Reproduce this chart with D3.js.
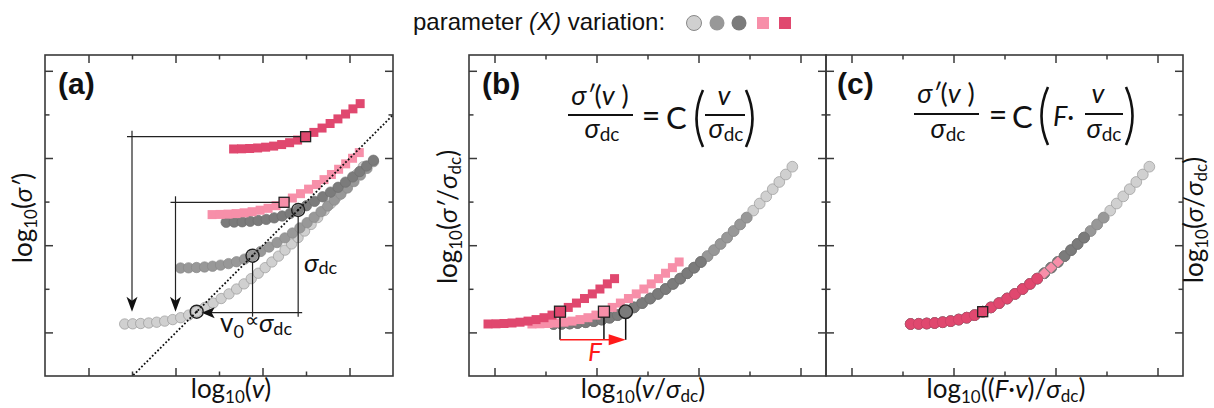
<!DOCTYPE html>
<html><head><meta charset="utf-8">
<script src="https://cdn.jsdelivr.net/npm/d3@7"></script>
<style>body{margin:0;background:#fff} svg{display:block}</style>
</head><body><svg id="chart" width="1214" height="408"></svg>
<script>
// ---------- DATA ----------
// collapsed master curve (panel c coordinates, arbitrary log units)
const masterLogNu = [1.947, 2.131, 2.315, 2.499, 2.683, 2.867, 3.051, 3.234, 3.418, 3.602,
  3.792, 3.980, 4.165, 4.345, 4.520, 4.690, 4.856, 5.018, 5.176, 5.331, 5.483, 5.633,
  5.783, 5.933, 6.083, 6.233, 6.383, 6.533, 6.683, 6.833, 6.983, 7.133, 7.283, 7.433];
const masterLogSigma = [1.193, 1.197, 1.204, 1.216, 1.234, 1.259, 1.294, 1.337, 1.397, 1.475,
  1.573, 1.673, 1.777, 1.883, 1.995, 2.113, 2.233, 2.357, 2.485, 2.615, 2.749, 2.887,
  3.029, 3.175, 3.325, 3.477, 3.633, 3.793, 3.956, 4.120, 4.285, 4.450, 4.622, 4.800];
const onsetIndex = 9;
const seriesNames = ["light gray", "gray", "dark gray", "pink", "crimson"];
const seriesColors = ["#d0d0d0", "#989898", "#7b7b7b", "#f78fa9", "#e0486f"];
const seriesStrokes = ["#999999", "#8a8a8a", "#6f6f6f", "none", "none"];
const seriesShapes = ["circle", "circle", "circle", "square", "square"];
const seriesPointCount = [34, 27, 20, 20, 17];     // panels a, b
const seriesPointCountC = [34, 27, 24, 20, 17];    // panel c
const seriesLogSigmaDc = [0, 1.284, 2.333, 2.509, 4.014];
const seriesLogF = [0, 0, 0, 0.5, 1.51];
const seriesArrowLogNu = [null, null, null, 3.0, 2.0];
const fArrowLogSigma = 0.83;
const xTicksA = [1, 2, 3, 4, 5, 6, 7];
const xTicksBC = [0, 1, 2, 3, 4, 5, 6];
const yTicks = [1, 2, 3, 4, 5, 6, 7];

// ---------- LAYOUT ----------
const svg = d3.select("#chart");
const Y0 = 55, Y1 = 376, unitX = 43.5, unitY = 43.6;
const panelAOffset = -0.115;
const P = {a: {x0: 45, x1: 393}, b: {x0: 469, x1: 826}, c: {x0: 826, x1: 1183}};
const y = d3.scaleLinear([0, (Y1 - Y0) / unitY], [Y1, Y0]);
const xs = {
  a: d3.scaleLinear([0, 8], [P.a.x0, P.a.x1]),
  b: d3.scaleLinear([0, (P.b.x1 - P.b.x0) / unitX], [P.b.x0, P.b.x1]),
  c: d3.scaleLinear([0, (P.c.x1 - P.c.x0) / unitX], [P.c.x0, P.c.x1])
};
const xTickScales = {
  a: xs.a,
  b: d3.scaleLinear([-0.5, 6.5], [P.b.x0, P.b.x1]),
  c: d3.scaleLinear([-0.5, 6.5], [P.c.x0, P.c.x1])
};
const FONT = "Lato, 'Noto Sans', sans-serif";
const INK = "#3a3a3a";

function pt(i, k, panel) {
  let xv = masterLogNu[k], yv = masterLogSigma[k];
  if (panel !== "c") xv -= seriesLogF[i];
  if (panel === "a") { xv += seriesLogSigmaDc[i] + panelAOffset; yv += seriesLogSigmaDc[i]; }
  return {x: xs[panel](xv), y: y(yv), k};
}
function seriesPts(i, panel) {
  const n = panel === "c" ? seriesPointCountC[i] : seriesPointCount[i];
  return d3.range(n).map(k => pt(i, k, panel));
}

// ---------- MARKERS ----------
["a", "b", "c"].forEach(panel => {
  const g = svg.append("g");
  seriesNames.forEach((name, i) => {
    const pts = seriesPts(i, panel);
    const gs = g.append("g");
    let shape = seriesShapes[i];
    if (panel === "c" && i === 4) shape = "circle";
    if (panel === "c" && i === 3) shape = "diamond";
    const r = panel === "a" ? 5.2 : 5.4;
    if (shape === "circle") {
      gs.selectAll("circle").data(pts).join("circle")
        .attr("cx", d => d.x).attr("cy", d => d.y).attr("r", r)
        .attr("fill", seriesColors[i])
        .attr("stroke", seriesStrokes[i] === "none" ? d3.color(seriesColors[i]).darker(0.3) : seriesStrokes[i])
        .attr("stroke-width", 0.7);
    } else if (shape === "square") {
      const s = 9;
      gs.selectAll("rect").data(pts).join("rect")
        .attr("x", d => d.x - s / 2).attr("y", d => d.y - s / 2)
        .attr("width", s).attr("height", s).attr("fill", seriesColors[i]);
    } else {
      const s = 7.8;
      gs.selectAll("rect").data(pts).join("rect")
        .attr("x", -s / 2).attr("y", -s / 2).attr("width", s).attr("height", s)
        .attr("transform", d => `translate(${d.x},${d.y}) rotate(45)`)
        .attr("fill", seriesColors[i]);
    }
  });
});

// ---------- ANNOTATIONS PANEL A ----------
const ga = svg.append("g");
const onA = seriesNames.map((n, i) => pt(i, onsetIndex, "a"));
ga.append("clipPath").attr("id", "clipA").append("rect")
  .attr("x", P.a.x0).attr("y", Y0).attr("width", P.a.x1 - P.a.x0).attr("height", Y1 - Y0);
{
  const x0v = masterLogNu[onsetIndex] + panelAOffset, y0v = masterLogSigma[onsetIndex];
  const t0 = -3, t1 = 6;
  ga.append("line").attr("clip-path", "url(#clipA)")
    .attr("x1", xs.a(x0v + t0)).attr("y1", y(y0v + t0))
    .attr("x2", xs.a(x0v + t1)).attr("y2", y(y0v + t1))
    .attr("stroke", "#111").attr("stroke-width", 1.8).attr("stroke-dasharray", "1.8,2.0");
}
seriesArrowLogNu.forEach((ax, i) => {
  if (ax === null) return;
  const o = onA[i], axp = xs.a(ax), tipY = onA[0].y;
  ga.append("line").attr("x1", axp - 5).attr("x2", o.x).attr("y1", o.y).attr("y2", o.y)
    .attr("stroke", "#222").attr("stroke-width", 1.2);
  ga.append("line").attr("x1", axp).attr("x2", axp).attr("y1", o.y - 6).attr("y2", tipY - 10)
    .attr("stroke", "#222").attr("stroke-width", 1.2);
  ga.append("path").attr("d", `M${axp},${tipY} L${axp - 5.5},${tipY - 15} L${axp},${tipY - 11} L${axp + 5.5},${tipY - 15}Z`)
    .attr("fill", "#111");
  ga.append("rect").attr("x", o.x - 5).attr("y", o.y - 5).attr("width", 10).attr("height", 10)
    .attr("fill", seriesColors[i]).attr("stroke", "#222").attr("stroke-width", 1.3);
});
{
  const L = onA[0], M = onA[1], D = onA[2];
  ga.append("line").attr("x1", L.x + 12).attr("x2", D.x + 4).attr("y1", L.y + 1).attr("y2", L.y + 1)
    .attr("stroke", "#222").attr("stroke-width", 1.2);
  ga.append("path").attr("d", `M${L.x + 5},${L.y + 1} L${L.x + 18},${L.y - 4.5} L${L.x + 15},${L.y + 1} L${L.x + 18},${L.y + 6.5}Z`)
    .attr("fill", "#111");
  [M, D].forEach(o => ga.append("line").attr("x1", o.x).attr("x2", o.x)
    .attr("y1", o.y + 6.5).attr("y2", L.y + 5).attr("stroke", "#222").attr("stroke-width", 1.2));
  [L, M, D].forEach(o => {
    ga.append("circle").attr("cx", o.x).attr("cy", o.y).attr("r", 6.5)
      .attr("fill", "none").attr("stroke", "#222").attr("stroke-width", 1.4);
    ga.append("circle").attr("cx", o.x).attr("cy", o.y).attr("r", 1.2).attr("fill", "#111");
  });
  const t1 = ga.append("text").attr("x", 304).attr("y", 272).attr("font-family", FONT).attr("font-size", 26).attr("fill", "#111");
  t1.append("tspan").attr("font-style", "italic").text("σ");
  t1.append("tspan").attr("font-size", 18).attr("dy", 2).text("dc");
  const t2 = ga.append("text").attr("x", 220).attr("y", 332).attr("font-family", FONT).attr("font-size", 26).attr("fill", "#111");
  t2.append("tspan").text("v");
  t2.append("tspan").attr("font-size", 18).attr("dy", 6).text("0");
  t2.append("tspan").attr("font-size", 20).attr("dy", -11).attr("dx", 1).text("∝");
  t2.append("tspan").attr("font-style", "italic").attr("dy", 5).text("σ");
  t2.append("tspan").attr("font-size", 18).attr("dy", 3).text("dc");
}

// ---------- ANNOTATIONS PANEL B ----------
const gb = svg.append("g");
{
  const on = seriesNames.map((n, i) => pt(i, onsetIndex, "b"));
  const ly = y(fArrowLogSigma);
  [4, 3, 0].forEach(i => gb.append("line").attr("x1", on[i].x).attr("x2", on[i].x)
    .attr("y1", on[i].y + 5).attr("y2", ly).attr("stroke", "#111").attr("stroke-width", 1.5));
  gb.append("line").attr("x1", on[4].x).attr("x2", on[0].x - 12).attr("y1", ly).attr("y2", ly)
    .attr("stroke", "#ff1a1a").attr("stroke-width", 1.5);
  gb.append("path").attr("d", `M${on[0].x},${ly} L${on[0].x - 17},${ly - 5.5} L${on[0].x - 17},${ly + 5.5}Z`).attr("fill", "#ff1a1a");
  [4, 3].forEach(i => gb.append("rect").attr("x", on[i].x - 5.5).attr("y", on[i].y - 5.5)
    .attr("width", 11).attr("height", 11).attr("fill", seriesColors[i]).attr("stroke", "#222").attr("stroke-width", 1.3));
  gb.append("circle").attr("cx", on[0].x).attr("cy", on[0].y).attr("r", 6.8)
    .attr("fill", seriesColors[2]).attr("stroke", "#222").attr("stroke-width", 1.4);
  gb.append("text").attr("x", 595).attr("y", 361).attr("text-anchor", "middle")
    .attr("font-family", FONT).attr("font-style", "italic").attr("font-size", 26).attr("fill", "#ff1a1a").text("F");
}
// ---------- ANNOTATIONS PANEL C ----------
{
  const o = pt(4, onsetIndex, "c");
  svg.append("rect").attr("x", o.x - 5).attr("y", o.y - 5).attr("width", 10).attr("height", 10)
    .attr("fill", seriesColors[4]).attr("stroke", "#222").attr("stroke-width", 1.3);
}

// ---------- FRAMES & TICKS ----------
["a", "b", "c"].forEach(panel => {
  const {x0, x1} = P[panel];
  const g = svg.append("g");
  const xt = xTickScales[panel], xv = panel === "a" ? xTicksA : xTicksBC;
  const xMaj = xv.filter((v, j) => j % 2 === 0), xMin = xv.filter((v, j) => j % 2 === 1);
  const yMaj = yTicks.filter((v, j) => j % 2 === 0), yMin = yTicks.filter((v, j) => j % 2 === 1);
  const style = s => s.call(q => q.select(".domain").remove()).selectAll("line").attr("stroke", INK).attr("stroke-width", 1.5);
  [[xMaj, 8], [xMin, 4.5]].forEach(([vals, len]) => {
    g.append("g").attr("transform", `translate(0,${Y1})`).call(d3.axisBottom(xt).tickValues(vals).tickSize(-len).tickFormat("")).call(style);
    g.append("g").attr("transform", `translate(0,${Y0})`).call(d3.axisTop(xt).tickValues(vals).tickSize(-len).tickFormat("")).call(style);
  });
  [[yMaj, 8], [yMin, 4.5]].forEach(([vals, len]) => {
    g.append("g").attr("transform", `translate(${x0},0)`).call(d3.axisLeft(y).tickValues(vals).tickSize(-len).tickFormat("")).call(style);
    g.append("g").attr("transform", `translate(${x1},0)`).call(d3.axisRight(y).tickValues(vals).tickSize(-len).tickFormat("")).call(style);
  });
  g.append("rect").attr("x", x0).attr("y", Y0).attr("width", x1 - x0).attr("height", Y1 - Y0)
    .attr("fill", "none").attr("stroke", INK).attr("stroke-width", 1.6);
});

// ---------- PANEL LABELS ----------
[["(a)", 58], ["(b)", 482], ["(c)", 837]].forEach(([t, x]) =>
  svg.append("text").attr("x", x).attr("y", 94).attr("font-family", "'Liberation Sans', Arial, sans-serif")
    .attr("font-weight", "bold").attr("font-size", 30).attr("fill", "#111").text(t));

// ---------- AXIS LABELS ----------
function logLabel(sel, parts) {
  sel.attr("font-family", FONT).attr("font-size", 26).attr("fill", "#111");
  sel.append("tspan").text("log");
  sel.append("tspan").attr("font-size", 17).attr("dy", 5).text("10");
  let shifted = true;
  parts.forEach(([txt, kind]) => {
    const t = sel.append("tspan").text(txt);
    if (kind === "sub") { t.attr("font-size", 17); if (!shifted) { t.attr("dy", 4); shifted = true; } }
    else { if (shifted) { t.attr("dy", kind === "first" ? -5 : -4); shifted = false; } if (kind === "it") t.attr("font-style", "italic"); }
  });
}
logLabel(svg.append("text").attr("x", 231).attr("y", 398).attr("text-anchor", "middle"),
  [["(", "first"], ["v", "it"], [")", "n"]]);
logLabel(svg.append("text").attr("x", 643).attr("y", 398).attr("text-anchor", "middle"),
  [["(", "first"], ["v", "it"], ["/", "n"], ["σ", "it"], ["dc", "sub"], [")", "n"]]);
logLabel(svg.append("text").attr("x", 1006).attr("y", 398).attr("text-anchor", "middle"),
  [["((", "first"], ["F", "it"], ["·", "n"], ["v", "it"], [")/", "n"], ["σ", "it"], ["dc", "sub"], [")", "n"]]);
logLabel(svg.append("text").attr("transform", "translate(32,218) rotate(-90)").attr("text-anchor", "middle"),
  [["(", "first"], ["σ′", "it"], [")", "n"]]);
logLabel(svg.append("text").attr("transform", "translate(457,217) rotate(-90)").attr("text-anchor", "middle"),
  [["(", "first"], ["σ′", "it"], ["/", "n"], ["σ", "it"], ["dc", "sub"], [")", "n"]]);
logLabel(svg.append("text").attr("transform", "translate(1203,220) rotate(-90)").attr("text-anchor", "middle"),
  [["(", "first"], ["σ", "it"], ["/", "n"], ["σ", "it"], ["dc", "sub"], [")", "n"]]);

// ---------- FORMULAS ----------
function sigmaDc(x, yb) {
  const t = svg.append("text").attr("x", x).attr("y", yb).attr("text-anchor", "middle")
    .attr("font-family", FONT).attr("font-size", 27).attr("fill", "#111");
  t.append("tspan").attr("font-style", "italic").text("σ");
  t.append("tspan").attr("font-size", 19).attr("dy", 3).text("dc");
}
function numer(x, yb) {
  const t = svg.append("text").attr("x", x).attr("y", yb).attr("text-anchor", "middle")
    .attr("font-family", FONT).attr("font-size", 27).attr("fill", "#111");
  t.append("tspan").attr("font-style", "italic").text("σ′");
  t.append("tspan").text("(");
  t.append("tspan").attr("font-style", "italic").text("v");
  t.append("tspan").text(" )");
}
function bar(x1, x2, yy) {
  svg.append("line").attr("x1", x1).attr("x2", x2).attr("y1", yy).attr("y2", yy).attr("stroke", "#111").attr("stroke-width", 2);
}
function paren(x, yt, yb, dir) {
  const mid = (yt + yb) / 2;
  svg.append("path").attr("d", `M${x},${yt} Q${x - dir * 13},${mid} ${x},${yb}`)
    .attr("fill", "none").attr("stroke", "#111").attr("stroke-width", 2.6);
}
function plain(txt, x, yb, size, anchor, italic) {
  svg.append("text").attr("x", x).attr("y", yb).attr("text-anchor", anchor || "start")
    .attr("font-family", FONT).attr("font-size", size).attr("font-style", italic ? "italic" : null)
    .attr("fill", "#111").text(txt);
}
numer(600, 105); bar(568, 633, 115); sigmaDc(602, 138);
plain("=", 651, 127, 32, "middle");
plain("C", 666, 129, 31);
paren(703, 90, 147, 1);
plain("v", 724, 105, 27, "middle", true); bar(705, 745, 115); sigmaDc(726, 138);
paren(746, 90, 147, -1);
numer(946, 103); bar(914, 979, 114); sigmaDc(948, 138);
plain("=", 998, 126, 32, "middle");
plain("C", 1012, 128, 31);
paren(1048, 87, 145, 1);
plain("F·", 1053, 126, 27, "start", true);
plain("v", 1098, 103, 27, "middle", true); bar(1085, 1123, 114); sigmaDc(1104, 138);
paren(1126, 87, 145, -1);

// ---------- LEGEND ----------
{
  const t = svg.append("text").attr("x", 413).attr("y", 30).attr("font-family", "'Liberation Sans', Arial, sans-serif")
    .attr("font-size", 24).attr("fill", "#111");
  t.append("tspan").text("parameter ");
  t.append("tspan").attr("font-style", "italic").text("(X)");
  t.append("tspan").text(" variation:");
  const lx = [694, 717, 739, 763, 785];
  seriesNames.forEach((n, i) => {
    if (seriesShapes[i] === "circle") {
      svg.append("circle").attr("cx", lx[i]).attr("cy", 23).attr("r", 7.5).attr("fill", seriesColors[i])
        .attr("stroke", i === 0 ? "#888" : "none").attr("stroke-width", 1);
    } else {
      svg.append("rect").attr("x", lx[i] - 6).attr("y", 17).attr("width", 12).attr("height", 12).attr("fill", seriesColors[i]);
    }
  });
}
</script></body></html>
